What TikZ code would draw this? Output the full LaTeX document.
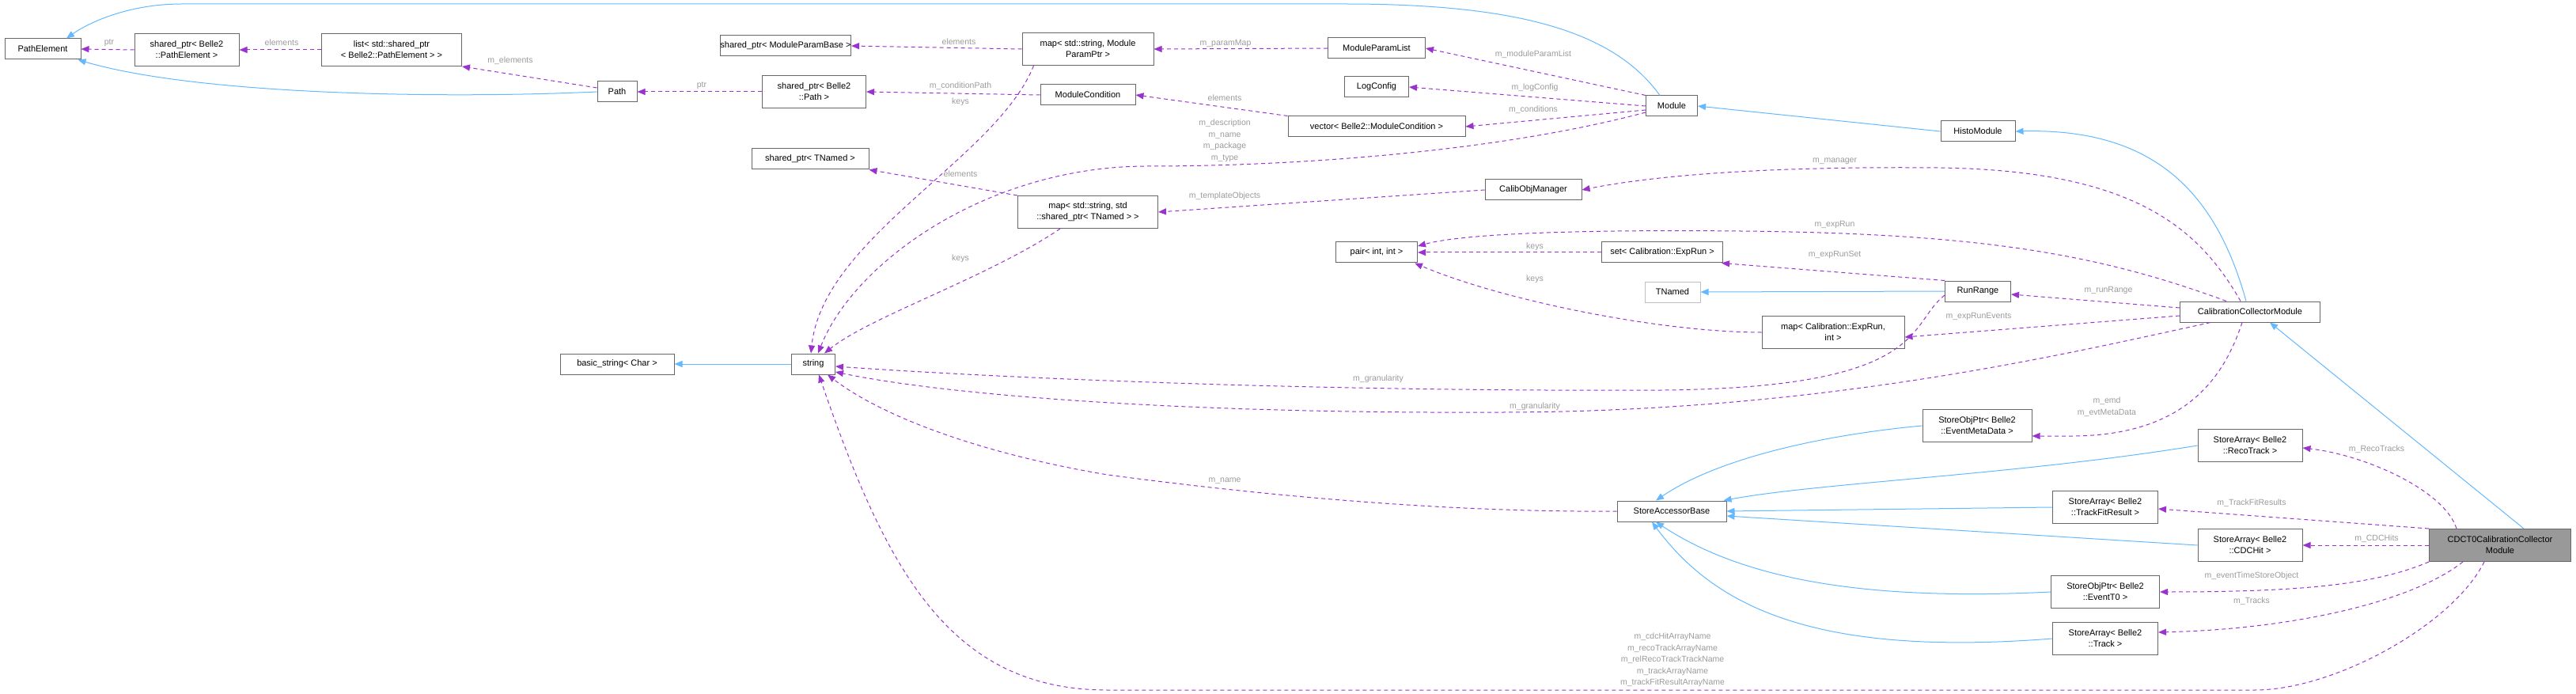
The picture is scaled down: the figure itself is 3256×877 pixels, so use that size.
\documentclass[tikz,border=0pt]{standalone}
\usepackage{fontspec}
\setmainfont{Liberation Sans}
\usetikzlibrary{arrows.meta}
\definecolor{cblue}{HTML}{63B8FF}
\definecolor{cpurp}{HTML}{9A32CD}
\definecolor{clbl}{HTML}{9A9A9A}
\definecolor{cbord}{HTML}{666666}
\begin{document}
\begin{tikzpicture}[x=1pt,y=-1pt,
  box/.style={draw=cbord,line width=1pt,fill=white,rectangle,inner sep=0pt,align=center,font=\fontsize{11}{14}\selectfont},
  one/.style={box,minimum height=26pt},
  two/.style={box,minimum height=41pt},
  lbl/.style={text=clbl,align=center,inner sep=0pt,font=\fontsize{10.5}{14.5}\selectfont},
  inh/.style={draw=cblue,line width=1pt,-{Triangle[length=10pt,width=8pt]}},
  use/.style={draw=cpurp,line width=1pt,dash pattern=on 5pt off 4pt,-{Triangle[length=10pt,width=8pt,fill=cpurp]}}]
\useasboundingbox (0,0) rectangle (3256,877);
% nodes
\node[one,minimum width=96pt] (PathElement) at (54,62) {PathElement};
\node[two,minimum width=132pt] (spPE) at (236,63) {shared\_ptr< Belle2\\::PathElement >};
\node[two,minimum width=177pt] (list) at (495,63) {list< std::shared\_ptr\\< Belle2::PathElement > >};
\node[one,minimum width=50pt] (Path) at (780,116) {Path};
\node[two,minimum width=131pt] (spPath) at (1029,116) {shared\_ptr< Belle2\\::Path >};
\node[one,minimum width=162pt] (spMPB) at (993,58) {shared\_ptr< ModuleParamBase >};
\node[one,minimum width=148pt] (spTN) at (1024,201) {shared\_ptr< TNamed >};
\node[two,minimum width=166pt] (mapMP) at (1375,62) {map< std::string, Module\\ParamPtr >};
\node[one,minimum width=123pt] (MPL) at (1740,61) {ModuleParamList};
\node[one,minimum width=81pt] (LogConfig) at (1740,110) {LogConfig};
\node[one,minimum width=120pt] (ModCond) at (1375,120) {ModuleCondition};
\node[one,minimum width=224pt] (vector) at (1740,160) {vector< Belle2::ModuleCondition >};
\node[one,minimum width=65pt] (Module) at (2113,134) {Module};
\node[two,minimum width=177pt] (mapTN) at (1375,268) {map< std::string, std\\::shared\_ptr< TNamed > >};
\node[one,minimum width=122pt] (CalibObj) at (1938,240) {CalibObjManager};
\node[one,minimum width=103pt] (pair) at (1740,319) {pair< int, int >};
\node[one,minimum width=153pt] (setER) at (2101,319) {set< Calibration::ExpRun >};
\node[one,minimum width=70pt,draw=lightgray] (TNamed) at (2114,369) {TNamed};
\node[one,minimum width=94pt] (HistoModule) at (2500,166) {HistoModule};
\node[one,minimum width=83pt] (RunRange) at (2500,368) {RunRange};
\node[two,minimum width=180pt] (mapER) at (2317,420) {map< Calibration::ExpRun,\\int >};
\node[one,minimum width=177pt] (CC) at (2844,394) {CalibrationCollectorModule};
\node[one,minimum width=144pt] (basicstring) at (780,460) {basic\_string< Char >};
\node[one,minimum width=55pt] (string) at (1028,460) {string};
\node[one,minimum width=138pt] (SAB) at (2113,646) {StoreAccessorBase};
\node[two,minimum width=138pt] (EMD) at (2499,538) {StoreObjPtr< Belle2\\::EventMetaData >};
\node[two,minimum width=132pt] (RecoTrack) at (2844,563) {StoreArray< Belle2\\::RecoTrack >};
\node[two,minimum width=133pt] (TFR) at (2661,641) {StoreArray< Belle2\\::TrackFitResult >};
\node[two,minimum width=132pt] (CDCHit) at (2844,689) {StoreArray< Belle2\\::CDCHit >};
\node[two,minimum width=179pt,fill=black!40] (CDCT0) at (3160,689) {CDCT0CalibrationCollector\\Module};
\node[two,minimum width=137pt] (EventT0) at (2661,748) {StoreObjPtr< Belle2\\::EventT0 >};
\node[two,minimum width=133pt] (Track) at (2661,807) {StoreArray< Belle2\\::Track >};
% inheritance
\draw[inh] ([xshift=-15pt]Module.north) .. controls (2040,40) and (1920,5) .. (1700,5) -- (230,5) .. controls (160,5) and (110,30) .. ([xshift=30pt]PathElement.north);
\draw[inh] (Path.west) .. controls (560,125) and (250,120) .. ([xshift=-4pt]PathElement.south east);
\draw[inh] (HistoModule.west) -- (Module.east);
\draw[inh] ([xshift=-5pt]CC.north) .. controls (2800,240) and (2720,162) .. (HistoModule.east);
\draw[inh] (RunRange.west) -- (TNamed.east);
\draw[inh] (string.west) -- (basicstring.east);
\draw[inh] ([xshift=30pt]CDCT0.north) -- ([xshift=25pt]CC.south);
\draw[inh] (EMD.west) .. controls (2300,550) and (2170,580) .. ([xshift=-20pt]SAB.north);
\draw[inh] (RecoTrack.west) .. controls (2550,600) and (2300,610) .. ([xshift=-4pt]SAB.north east);
\draw[inh] (TFR.west) -- (SAB.east);
\draw[inh] (CDCHit.west) -- ([yshift=-6pt]SAB.east);
\draw[inh] (EventT0.west) .. controls (2350,760) and (2200,730) .. ([xshift=-20pt]SAB.south);
\draw[inh] (Track.west) .. controls (2300,830) and (2170,770) .. ([xshift=-25pt]SAB.south);
% usage
\draw[use] (spPE.west) -- (PathElement.east);
\draw[use] (list.west) -- (spPE.east);
\draw[use] ([yshift=5pt]Path.west) -- (list.south east);
\draw[use] (spPath.west) -- (Path.east);
\draw[use] (mapMP.west) -- (spMPB.east);
\draw[use] (MPL.west) -- (mapMP.east);
\draw[use] (Module.north west) -- (MPL.east);
\draw[use] (Module.west) -- (LogConfig.east);
\draw[use] ([yshift=-5pt]Module.west) -- (vector.east);
\draw[use] (vector.north west) -- (ModCond.east);
\draw[use] (ModCond.west) -- (spPath.east);
\draw[use] ([xshift=15pt]mapMP.south west) .. controls (1260,200) and (1040,300) .. ([xshift=-3pt]string.north);
\draw[use] ([yshift=-8pt]Module.west) .. controls (1900,190) and (1650,210) .. (1450,210) .. controls (1250,210) and (1080,330) .. ([xshift=6pt]string.north);
\draw[use] (mapTN.north west) -- (spTN.south east);
\draw[use] ([xshift=-35pt]mapTN.south) .. controls (1250,350) and (1100,400) .. ([xshift=14pt]string.north);
\draw[use] (CalibObj.west) -- (mapTN.east);
\draw[use] ([xshift=-12pt]CC.north) .. controls (2780,290) and (2700,215) .. (2450,212) .. controls (2250,210) and (2100,220) .. (CalibObj.east);
\draw[use] ([xshift=-30pt]CC.north) .. controls (2650,320) and (2500,295) .. (2200,292) .. controls (2000,290) and (1850,295) .. ([yshift=8pt]pair.east);
\draw[use] (setER.west) -- (pair.east);
\draw[use] (RunRange.north west) -- ([xshift=-2pt]setER.south east);
\draw[use] (mapER.west) .. controls (2100,420) and (1900,380) .. ([xshift=-4pt]pair.south east);
\draw[use] ([yshift=5pt]CC.west) -- ([yshift=-4pt]RunRange.east);
\draw[use] ([yshift=-5pt]CC.west) -- ([yshift=-6pt]mapER.east);
\draw[use] ([yshift=-5pt]RunRange.west) .. controls (2410,410) and (2440,490) .. (2100,493) .. controls (1700,495) and (1300,480) .. ([yshift=-3pt]string.east);
\draw[use] ([xshift=-50pt]CC.south) .. controls (2600,450) and (2300,520) .. (1900,521) .. controls (1500,523) and (1200,500) .. ([yshift=-10pt]string.east);
\draw[use] ([xshift=-10pt]CC.south) .. controls (2810,480) and (2760,550) .. (2620,551) -- ([yshift=-13pt]EMD.east);
\draw[use] (SAB.west) .. controls (1800,648) and (1550,620) .. (1400,600) .. controls (1250,575) and (1120,530) .. ([xshift=18pt]string.south);
\draw[use] ([xshift=-20pt]CDCT0.south) .. controls (3100,790) and (2950,872) .. (2850,872) -- (1400,872) .. controls (1200,872) and (1120,720) .. ([xshift=7pt]string.south);
\draw[use] ([xshift=-55pt]CDCT0.north) .. controls (3090,620) and (2990,575) .. ([yshift=-3pt]RecoTrack.east);
\draw[use] (CDCT0.north west) -- ([yshift=-2pt]TFR.east);
\draw[use] (CDCT0.west) -- (CDCHit.east);
\draw[use] (CDCT0.south west) .. controls (3000,740) and (2900,748) .. (EventT0.east);
\draw[use] ([xshift=-47pt]CDCT0.south) .. controls (3050,760) and (2900,795) .. ([yshift=8pt]Track.east);
% labels
\node[lbl] (l1) at (138,54) {ptr};
\node[lbl] (l2) at (356,54) {elements};
\node[lbl] (l3) at (645,77) {m\_elements};
\node[lbl] (l4) at (887,108) {ptr};
\node[lbl] (l5) at (1212,53) {elements};
\node[lbl] (l6) at (1549,55) {m\_paramMap};
\node[lbl] (l7) at (1938,69) {m\_moduleParamList};
\node[lbl] (l8) at (1940,111) {m\_logConfig};
\node[lbl] (l9) at (1938,139) {m\_conditions};
\node[lbl] (l10) at (1214,109) {m\_conditionPath};
\node[lbl] (l11) at (1214,129) {keys};
\node[lbl] (l12) at (1548,124) {elements};
\node[lbl] (l13) at (1548,178) {m\_description\\m\_name\\m\_package\\m\_type};
\node[lbl] (l14) at (1214,220) {elements};
\node[lbl] (l15) at (1548,248) {m\_templateObjects};
\node[lbl] (l16) at (1214,327) {keys};
\node[lbl] (l17) at (1940,312) {keys};
\node[lbl] (l18) at (1940,353) {keys};
\node[lbl] (l19) at (2319,204) {m\_manager};
\node[lbl] (l20) at (2319,284) {m\_expRun};
\node[lbl] (l21) at (2319,322) {m\_expRunSet};
\node[lbl] (l22) at (2665,367) {m\_runRange};
\node[lbl] (l23) at (2501,400) {m\_expRunEvents};
\node[lbl] (l24) at (1742,479) {m\_granularity};
\node[lbl] (l25) at (1940,514) {m\_granularity};
\node[lbl] (l26) at (1548,608) {m\_name};
\node[lbl] (l27) at (2663,514) {m\_emd\\m\_evtMetaData};
\node[lbl] (l28) at (3004,568) {m\_RecoTracks};
\node[lbl] (l29) at (2846,636) {m\_TrackFitResults};
\node[lbl] (l30) at (3004,681) {m\_CDCHits};
\node[lbl] (l31) at (2846,728) {m\_eventTimeStoreObject};
\node[lbl] (l32) at (2846,760) {m\_Tracks};
\node[lbl] (l33) at (2114,834) {m\_cdcHitArrayName\\m\_recoTrackArrayName\\m\_relRecoTrackTrackName\\m\_trackArrayName\\m\_trackFitResultArrayName};
\end{tikzpicture}
\end{document}
